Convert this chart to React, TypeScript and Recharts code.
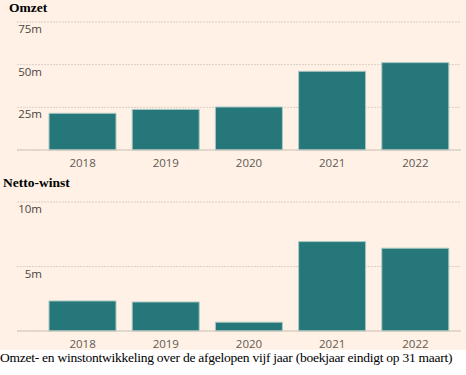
import React from 'react';
import { BarChart, Bar, XAxis, YAxis, CartesianGrid } from 'recharts';

const years = ['2018', '2019', '2020', '2021', '2022'];
const omzet = [21.5, 23.8, 25.2, 46.1, 51.2];
const nettoWinst = [2.33, 2.25, 0.68, 6.93, 6.42];
const omzetTicks = [25, 50, 75];
const winstTicks = [5, 10];

const omzetData = years.map((y, i) => ({ year: y, value: omzet[i] }));
const winstData = years.map((y, i) => ({ year: y, value: nettoWinst[i] }));

const BG = '#FFF1E5';
const BAR = '#26777A';

const YTick = (props: any) => {
  const { y, payload } = props;
  return (
    <text x={42} y={y + 8} textAnchor="end" dominantBaseline="middle" fontSize={11.5} fill="#4a4542" fontFamily="'Open Sans', sans-serif">
      {payload.value}m
    </text>
  );
};

const XTick = (props: any) => {
  const { x, y, payload } = props;
  return (
    <text x={x} y={y + 6} textAnchor="middle" dominantBaseline="middle" fontSize={11.5} fill="#5f5955" fontFamily="'Open Sans', sans-serif">
      {payload.value}
    </text>
  );
};

function Panel({ data, ticks, max, height, top }: any) {
  return (
    <BarChart
      width={466}
      height={height}
      data={data}
      margin={{ top: top, right: 5, bottom: 0, left: 1 }}
      barCategoryGap={8}
    >
      <CartesianGrid vertical={false} stroke="#d8cfc6" strokeDasharray="2 1" />
      <XAxis
        dataKey="year"
        padding={{ left: 24, right: 4 }}
        axisLine={{ stroke: '#d4cac0' }}
        tickLine={false}
        tick={<XTick />}
        height={20}
        interval={0}
      />
      <YAxis width={16} domain={[0, max]} ticks={ticks} axisLine={false} tickLine={false} tick={<YTick />} />
      <Bar dataKey="value" fill={BAR} stroke="#a9c8c4" strokeWidth={1} isAnimationActive={false} />
    </BarChart>
  );
}

export default function App() {
  return (
    <div style={{ position: 'fixed', left: 0, top: 0, width: 466, height: 375, background: '#fff' }}>
      <div style={{ position: 'absolute', left: 0, top: 0, width: 466, height: 350, background: BG }} />
      <div style={{ position: 'absolute', left: 0, top: 0 }}>
        <Panel data={omzetData} ticks={omzetTicks} max={75} height={170} top={22} />
      </div>
      <div style={{ position: 'absolute', left: 0, top: 170 }}>
        <Panel data={winstData} ticks={winstTicks} max={10} height={181} top={32} />
      </div>
      <div style={{ position: 'absolute', left: 9, top: 0, fontFamily: "'Liberation Serif', 'Times New Roman', serif", fontWeight: 'bold', fontSize: 13.5, color: '#000' }}>
        Omzet
      </div>
      <div style={{ position: 'absolute', left: 3, top: 175, fontFamily: "'Liberation Serif', 'Times New Roman', serif", fontWeight: 'bold', fontSize: 13.5, color: '#000' }}>
        Netto-winst
      </div>
      <div style={{ position: 'absolute', left: 0, top: 350, whiteSpace: 'nowrap', fontFamily: "'Liberation Serif', 'Times New Roman', serif", fontSize: 13.5, letterSpacing: -0.25, color: '#000' }}>
        Omzet- en winstontwikkeling over de afgelopen vijf jaar (boekjaar eindigt op 31 maart)
      </div>
    </div>
  );
}
